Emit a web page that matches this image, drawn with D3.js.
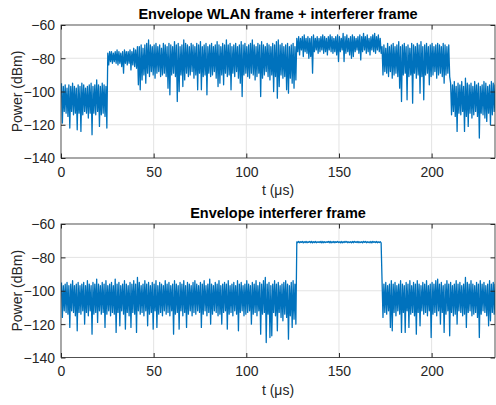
<!DOCTYPE html>
<html>
<head>
<meta charset="utf-8">
<script src="https://cdnjs.cloudflare.com/ajax/libs/d3/7.8.5/d3.min.js"></script>
<style>
body { margin: 0; background: #fff; }
text { font-family: "Liberation Sans", Arial, sans-serif; }
</style>
</head>
<body>
<div id="canvas"></div>
<script>

// axis setup
var xTicks = [0, 50, 100, 150, 200]
var yTicks = [-140, -120, -100, -80, -60]
var tMax = 234.2
var titles = ["Envelope WLAN frame + interferer frame", "Envelope interferer frame"]
var xLabel = "t (\u03bcs)"
var yLabel = "Power (dBm)"

// one upper and one lower value per microsecond (t = 0..234), in dBm
var topHi = [
	-95,-97,-96,-98,-96,-97,-95,-97,-98,-96,
	-97,-95,-96,-98,-97,-96,-95,-97,-96,-93,
	-96,-97,-95,-96,-97,-77,-76,-76,-77,-76,
	-75,-76,-77,-76,-75,-76,-76,-75,-76,-74,
	-75,-73,-73,-72,-74,-72,-71,-69,-72,-73,
	-72,-71,-73,-72,-74,-71,-72,-73,-71,-72,
	-73,-70,-72,-71,-73,-72,-69,-71,-72,-73,
	-71,-72,-73,-71,-72,-70,-73,-72,-71,-73,
	-72,-71,-73,-72,-70,-72,-73,-71,-72,-69,
	-72,-71,-73,-72,-71,-73,-72,-70,-72,-71,
	-73,-72,-71,-69,-72,-73,-71,-72,-70,-72,
	-73,-71,-72,-73,-71,-72,-70,-69,-72,-71,
	-73,-72,-71,-73,-72,-71,-73,-68,-67,-68,
	-67,-66,-68,-67,-68,-67,-66,-68,-67,-68,
	-67,-66,-67,-68,-67,-66,-67,-68,-67,-66,
	-67,-68,-65,-67,-66,-68,-67,-66,-67,-68,
	-67,-66,-67,-65,-67,-66,-68,-67,-66,-65,
	-67,-66,-68,-73,-72,-74,-71,-73,-72,-71,
	-73,-72,-70,-73,-72,-71,-73,-72,-74,-71,
	-72,-73,-71,-72,-70,-73,-72,-71,-73,-72,
	-71,-73,-72,-71,-72,-73,-71,-72,-73,-72,
	-95,-96,-94,-97,-95,-96,-94,-97,-92,-95,
	-96,-95,-97,-94,-96,-95,-97,-96,-94,-95,
	-97,-96,-94,-95,-96
]
var topLo = [
	-119,-112,-113,-115,-122,-112,-114,-113,-123,-113,
	-124,-114,-112,-113,-116,-113,-126,-113,-114,-112,
	-121,-114,-113,-115,-122,-84,-82,-83,-82,-83,
	-84,-83,-85,-89,-83,-84,-83,-87,-84,-85,
	-86,-96,-99,-93,-90,-95,-89,-91,-88,-90,
	-92,-89,-88,-91,-90,-89,-91,-98,-102,-90,
	-89,-91,-106,-100,-90,-97,-93,-89,-91,-90,
	-88,-92,-90,-99,-89,-99,-91,-90,-102,-89,
	-91,-90,-88,-92,-97,-95,-90,-96,-89,-91,
	-90,-99,-89,-91,-88,-92,-95,-103,-90,-89,
	-91,-92,-89,-90,-93,-91,-89,-103,-92,-90,
	-88,-91,-93,-90,-100,-91,-104,-97,-90,-92,
	-91,-99,-101,-92,-95,-98,-93,-76,-78,-75,
	-79,-76,-77,-80,-79,-89,-76,-75,-77,-76,
	-75,-77,-76,-78,-75,-76,-77,-76,-78,-82,
	-76,-75,-82,-77,-76,-78,-80,-79,-76,-75,
	-77,-81,-76,-75,-77,-76,-78,-75,-76,-77,
	-75,-76,-77,-90,-88,-89,-91,-88,-92,-90,
	-89,-91,-98,-106,-90,-89,-105,-91,-90,-107,
	-89,-92,-90,-101,-91,-105,-90,-89,-96,-91,
	-90,-88,-92,-90,-89,-91,-95,-90,-89,-91,
	-114,-112,-115,-124,-113,-114,-112,-124,-115,-121,
	-113,-116,-114,-112,-115,-128,-113,-114,-116,-118,
	-113,-120,-114,-112,-119
]
var botHi = [
	-95,-97,-96,-95,-97,-96,-94,-97,-96,-95,
	-97,-96,-95,-97,-94,-96,-97,-95,-96,-93,
	-96,-97,-95,-96,-94,-97,-96,-95,-97,-93,
	-96,-95,-97,-96,-94,-96,-97,-95,-96,-94,
	-96,-92,-95,-97,-96,-94,-96,-95,-97,-95,
	-96,-94,-97,-95,-96,-97,-94,-96,-95,-97,
	-96,-94,-96,-97,-95,-96,-94,-97,-95,-96,
	-97,-95,-94,-96,-97,-95,-96,-94,-97,-96,
	-93,-96,-97,-95,-96,-94,-97,-96,-95,-96,
	-94,-97,-96,-95,-97,-94,-96,-95,-97,-96,
	-94,-96,-97,-95,-96,-94,-97,-95,-96,-94,
	-92,-96,-95,-97,-96,-94,-96,-95,-97,-96,
	-95,-94,-96,-97,-95,-94,-96,-70.7,-70.5,-70.6,
	-70.4,-70.6,-70.5,-70.7,-70.5,-70.4,-70.6,-70.5,-70.7,-70.6,
	-70.4,-70.5,-70.6,-70.7,-70.5,-70.4,-70.6,-70.5,-70.6,-70.4,
	-70.7,-70.5,-70.6,-70.4,-70.5,-70.7,-70.6,-70.5,-70.4,-70.6,
	-70.5,-70.7,-70.6,-70.4,-70.5,-70.6,-70.7,-70.5,-70.4,-70.6,
	-70.5,-70.7,-70.6,-94,-96,-95,-97,-96,-94,-96,
	-95,-97,-96,-94,-96,-97,-95,-96,-94,-97,
	-95,-96,-94,-96,-97,-95,-96,-94,-97,-96,
	-95,-96,-94,-93,-96,-95,-97,-96,-94,-96,
	-95,-97,-96,-94,-96,-95,-97,-96,-92,-95,
	-96,-94,-96,-97,-95,-96,-94,-96,-95,-97,
	-96,-94,-96,-95,-96
]
var botLo = [
	-116,-112,-113,-114,-122,-112,-113,-115,-124,-113,
	-114,-112,-120,-113,-115,-112,-126,-114,-113,-119,
	-112,-114,-113,-122,-114,-112,-115,-113,-114,-125,
	-113,-121,-112,-114,-123,-113,-115,-122,-113,-114,
	-125,-112,-114,-113,-115,-112,-121,-114,-113,-123,
	-112,-122,-114,-113,-115,-112,-114,-113,-115,-112,
	-126,-114,-113,-123,-112,-115,-113,-122,-114,-112,
	-115,-113,-114,-112,-113,-122,-114,-112,-115,-113,
	-120,-114,-112,-113,-115,-114,-120,-113,-112,-123,
	-114,-113,-115,-112,-114,-124,-113,-112,-115,-114,
	-113,-112,-120,-114,-113,-115,-112,-126,-114,-113,
	-131,-114,-128,-127,-113,-115,-124,-113,-116,-118,
	-114,-116,-129,-115,-122,-117,-120,-71.1,-71.2,-71.0,
	-71.3,-71.1,-71.2,-71.0,-71.2,-71.3,-71.1,-71.2,-71.0,-71.1,
	-71.3,-71.2,-71.1,-71.0,-71.2,-71.3,-71.1,-71.2,-71.0,-71.1,
	-71.2,-71.3,-71.1,-71.0,-71.2,-71.1,-71.3,-71.2,-71.0,-71.1,
	-71.2,-71.1,-71.3,-71.0,-71.2,-71.1,-71.2,-71.3,-71.0,-71.1,
	-71.2,-71.1,-71.3,-116,-113,-114,-112,-122,-124,-113,
	-115,-112,-114,-125,-113,-125,-112,-122,-114,-113,
	-115,-126,-113,-121,-112,-114,-113,-115,-112,-128,
	-114,-113,-115,-112,-120,-113,-125,-114,-112,-127,
	-113,-115,-114,-120,-112,-113,-115,-114,-122,-113,
	-112,-115,-114,-113,-116,-128,-114,-112,-113,-115,
	-121,-118,-113,-114,-119
]

var W = 496, H = 405
var left = 61, right = 495
var panels = [
	{ top: 25, bottom: 158, title: titles[0], hi: topHi, lo: topLo },
	{ top: 224, bottom: 357.5, title: titles[1], hi: botHi, lo: botLo }
]

var svg = d3.select('#canvas').append("svg")
	.attr("width", W)
	.attr("height", H)

var x = d3.scaleLinear().domain([0, tMax]).range([left, right])

// samples go hi, lo, hi, lo ... inside each microsecond
function zigzag(hi, lo) {
	var pts = []
	for (var i = 0; i < hi.length; i++) {
		pts.push([i + 0.25, hi[i]])
		pts.push([i + 0.75, lo[i]])
	}
	return pts
}

function drawPanel(p, k) {
	var y = d3.scaleLinear().domain([-140, -60]).range([p.bottom, p.top])
	var g = svg.append("g")

	g.append("clipPath").attr("id", "clip" + k)
		.append("rect")
		.attr("x", left).attr("y", p.top)
		.attr("width", right - left).attr("height", p.bottom - p.top)

	// grid
	g.selectAll(".vgrid")
		.data(xTicks.slice(1))
		.enter().append("line")
			.attr("x1", function (d) { return x(d) })
			.attr("x2", function (d) { return x(d) })
			.attr("y1", p.top).attr("y2", p.bottom)
			.style("stroke", "#e3e3e3")
	g.selectAll(".hgrid")
		.data(yTicks.slice(1, -1))
		.enter().append("line")
			.attr("x1", left).attr("x2", right)
			.attr("y1", function (d) { return y(d) })
			.attr("y2", function (d) { return y(d) })
			.style("stroke", "#e3e3e3")

	var line = d3.line()
		.x(function (d) { return x(d[0]) })
		.y(function (d) { return y(d[1]) })

	g.append("path")
		.datum(zigzag(p.hi, p.lo))
		.attr("clip-path", "url(#clip" + k + ")")
		.attr("d", line)
		.style("fill", "none")
		.style("stroke", "#0072BD")
		.style("stroke-width", 1.3)
		.style("stroke-linejoin", "round")

	// ticks on all four sides, pointing in
	var axes = [
		{ ax: d3.axisBottom(x).tickValues(xTicks), tr: "translate(0," + p.bottom + ")", labels: true },
		{ ax: d3.axisTop(x).tickValues(xTicks), tr: "translate(0," + p.top + ")", labels: false },
		{ ax: d3.axisLeft(y).tickValues(yTicks), tr: "translate(" + left + ",0)", labels: true },
		{ ax: d3.axisRight(y).tickValues(yTicks), tr: "translate(" + right + ",0)", labels: false }
	]
	axes.forEach(function (a) {
		a.ax.tickSizeInner(-4.5).tickSizeOuter(0)
		if (!a.labels) a.ax.tickFormat("")
		var ag = g.append("g").attr("transform", a.tr).call(a.ax)
		ag.select(".domain").remove()
		ag.selectAll("line").style("stroke", "#262626")
		ag.selectAll("text")
			.style("font-size", "14px")
			.style("fill", "#262626")
	})
	g.selectAll("text").filter(function () { return this.parentNode.parentNode.getAttribute("transform") == "translate(0," + p.bottom + ")" })
		.attr("y", 0).attr("dy", "18.7px")
	g.selectAll("text").filter(function () { return this.parentNode.parentNode.getAttribute("transform") == "translate(" + left + ",0)" })
		.attr("x", -6).attr("dy", "0.35em")

	g.append("rect")
		.attr("x", left).attr("y", p.top)
		.attr("width", right - left).attr("height", p.bottom - p.top)
		.style("fill", "none")
		.style("stroke", "#262626")
		.style("stroke-width", 0.8)

	g.append("text")
		.attr("x", (left + right) / 2)
		.attr("y", p.top - 5.7)
		.attr("text-anchor", "middle")
		.style("font-size", "14.5px")
		.style("font-weight", "bold")
		.style("fill", "#000")
		.text(p.title)

	g.append("text")
		.attr("x", (left + right) / 2)
		.attr("y", p.bottom + 37)
		.attr("text-anchor", "middle")
		.style("font-size", "14px")
		.style("fill", "#262626")
		.text(xLabel)

	g.append("text")
		.attr("transform", "translate(21.5," + ((p.top + p.bottom) / 2) + ") rotate(-90)")
		.attr("text-anchor", "middle")
		.style("font-size", "14px")
		.style("fill", "#262626")
		.text(yLabel)
}

panels.forEach(drawPanel)

</script>
</body>
</html>
